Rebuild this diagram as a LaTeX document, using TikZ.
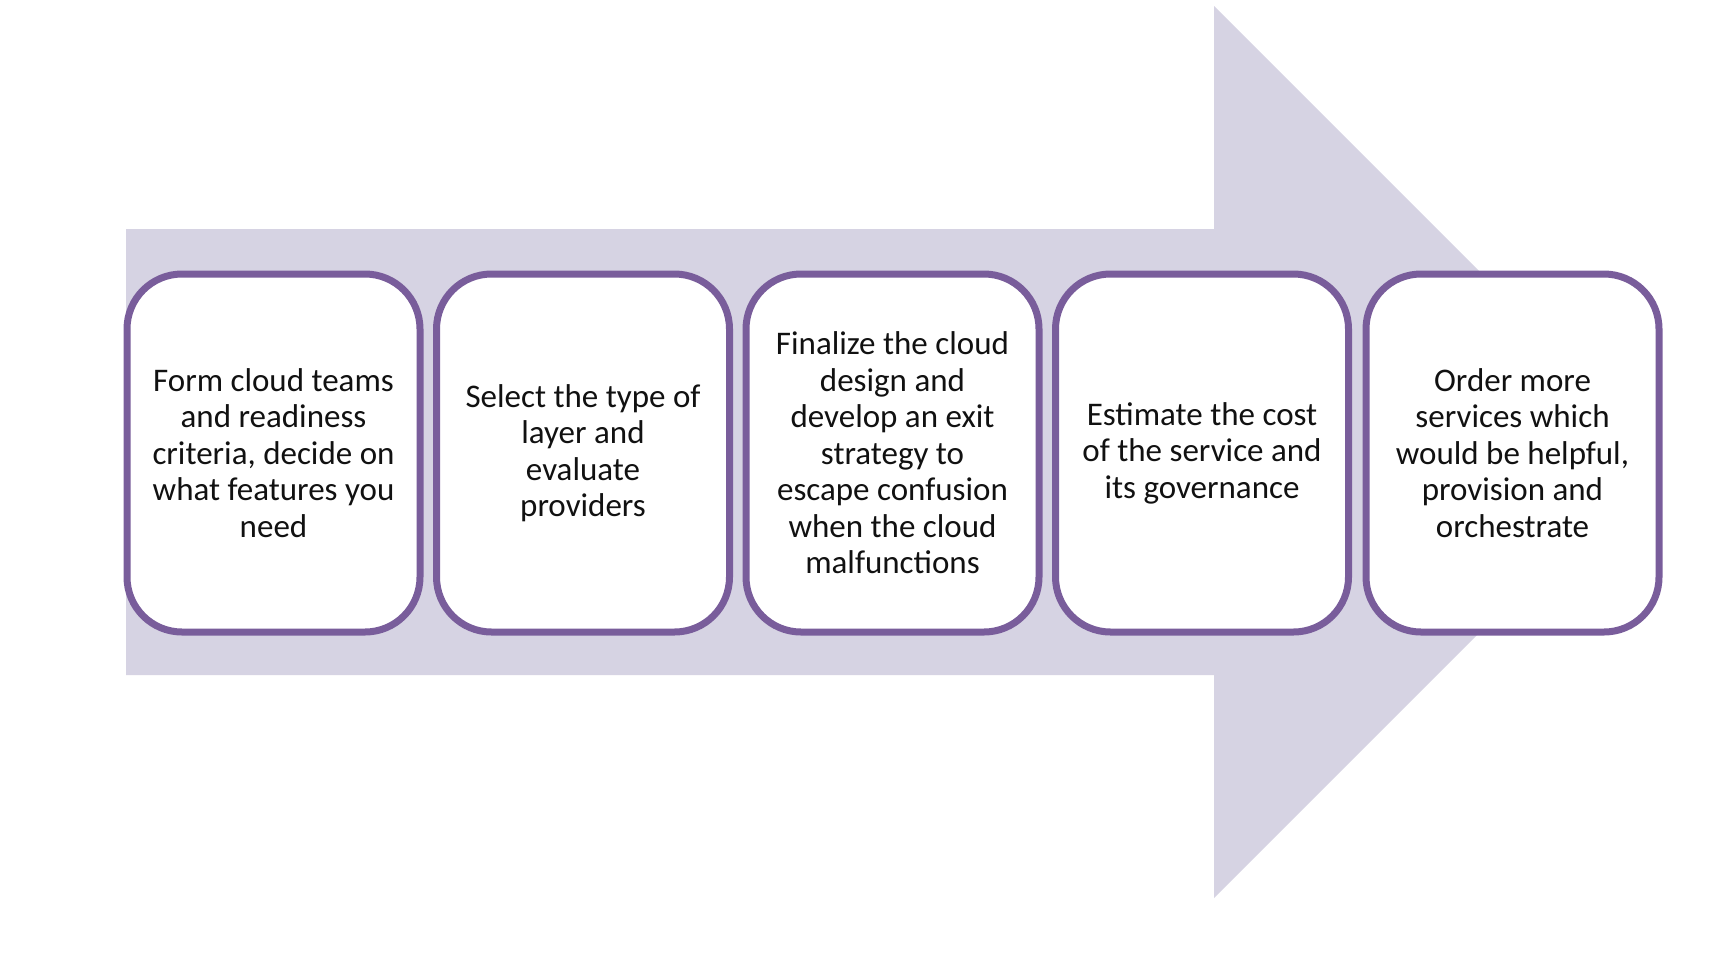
\documentclass[tikz,border=0pt]{standalone}
\usepackage{fontspec}
\setmainfont{Carlito}
\definecolor{arrowfill}{HTML}{D6D3E3}
\definecolor{boxline}{HTML}{795D9B}
\definecolor{txt}{HTML}{111111}
\tikzset{
  stepbox/.style={draw=boxline, line width=7pt, fill=white, rounded corners=55pt,
    minimum width=293pt, minimum height=358pt, inner sep=0pt, align=center,
    text=txt, font=\fontsize{33}{36.5}\selectfont}
}
\begin{document}
\begin{tikzpicture}[x=1pt,y=-1pt]
\useasboundingbox (0,0) rectangle (1736,978);
\fill[arrowfill] (126,229) -- (1214,229) -- (1214,6) -- (1660,452) -- (1214,898) -- (1214,675) -- (126,675) -- cycle;
\node[stepbox] (s1) at (273.5,453) {Form cloud teams\\and readiness\\criteria, decide on\\what features you\\need};
\node[stepbox] (s2) at (583,453) {Select the type of\\layer and\\evaluate\\providers};
\node[stepbox] (s3) at (892.5,453) {Finalize the cloud\\design and\\develop an exit\\strategy to\\escape confusion\\when the cloud\\malfunctions};
\node[stepbox] (s4) at (1202,453) {Estimate the cost\\of the service and\\its governance};
\node[stepbox] (s5) at (1512.5,453) {Order more\\services which\\would be helpful,\\provision and\\orchestrate};
\end{tikzpicture}
\end{document}
